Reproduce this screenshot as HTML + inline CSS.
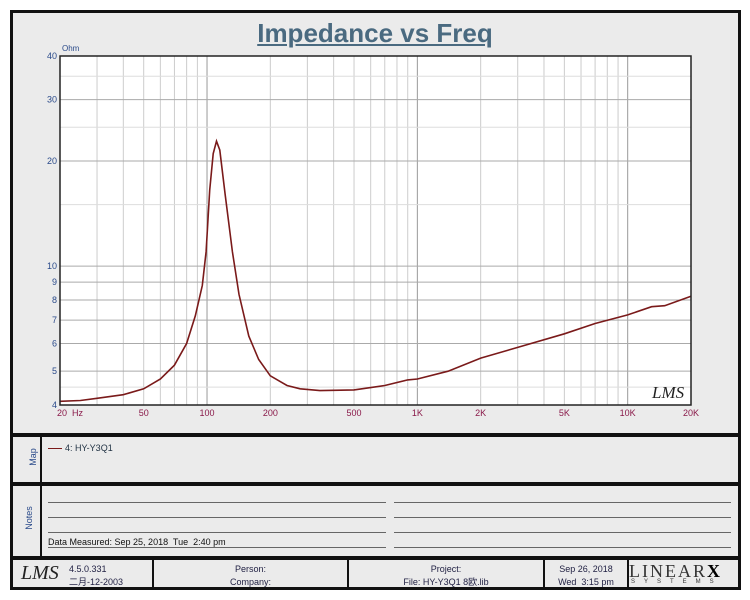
<!DOCTYPE html>
<html><head><meta charset="utf-8"><style>
body{margin:0;background:#fff;width:750px;height:600px;position:relative;font-family:"Liberation Sans","Noto Sans CJK SC",sans-serif;overflow:hidden}
.box{position:absolute;border:3px solid #111;background:#ebebeb;box-sizing:border-box}
.t{position:absolute;font-size:10px;color:#234;white-space:nowrap}
.line{position:absolute;height:1px;background:#666}
.cell{position:absolute;top:0;bottom:0;border-right:2px solid #111;text-align:center;font-size:9px;color:#224;line-height:13px;padding-top:3px;box-sizing:border-box}
</style></head><body>
<div class="box" style="left:10px;top:10px;width:731px;height:426px"></div>
<div style="position:absolute;left:0;width:750px;top:18px;text-align:center;font:bold 26px 'Liberation Sans',sans-serif;color:#4a6a80;text-decoration:underline">Impedance vs Freq</div>
<div class="box" style="left:10px;top:434px;width:731px;height:51px"></div>
<div class="box" style="left:10px;top:483px;width:731px;height:76px"></div>
<div style="position:absolute;left:40px;top:436px;width:2px;height:121px;background:#111"></div>
<div style="position:absolute;left:24px;top:452px;font-size:9px;color:#2a4a8a;transform:rotate(-90deg)">Map</div>
<div style="position:absolute;left:17px;top:513px;font-size:9px;color:#2a4a8a;transform:rotate(-90deg)">Notes</div>
<div style="position:absolute;left:48px;top:448px;width:14px;height:1px;background:#7a1a1a"></div>
<div class="t" style="left:65px;top:443px;font-size:9px">4: HY-Y3Q1</div>
<div class="line" style="left:48px;top:502px;width:338px"></div>
<div class="line" style="left:394px;top:502px;width:337px"></div>
<div class="line" style="left:48px;top:517px;width:338px"></div>
<div class="line" style="left:394px;top:517px;width:337px"></div>
<div class="line" style="left:48px;top:532px;width:338px"></div>
<div class="line" style="left:394px;top:532px;width:337px"></div>
<div class="line" style="left:48px;top:547px;width:338px"></div>
<div class="line" style="left:394px;top:547px;width:337px"></div>
<div class="t" style="left:48px;top:537px;font-size:9px;color:#111">Data Measured: Sep 25, 2018&nbsp; Tue&nbsp; 2:40 pm</div>
<div class="box" style="left:10px;top:557px;width:731px;height:33px">
 <div class="cell" style="left:0;width:141px;text-align:left">
  <span style="position:absolute;left:8px;top:2px;font:italic 20px 'Liberation Serif',serif;color:#222">LMS</span>
  <span style="position:absolute;left:56px;top:3px;font-size:9px">4.5.0.331<br>二月-12-2003</span></div>
 <div class="cell" style="left:141px;width:195px">Person:<br>Company:</div>
 <div class="cell" style="left:336px;width:196px">Project:<br>File: HY-Y3Q1 8欧.lib</div>
 <div class="cell" style="left:532px;width:84px">Sep 26, 2018<br>Wed&nbsp; 3:15 pm</div>
 <div style="position:absolute;left:616px;top:1px;font:18px 'Liberation Serif',serif;letter-spacing:2px;color:#333">LINEAR<b style="color:#000">X</b></div>
 <div style="position:absolute;left:618px;top:19px;font-size:6px;letter-spacing:9px;color:#333">SYSTEMS</div>
</div>
<svg id="s" width="750" height="600" style="position:absolute;left:0;top:0"></svg>
<script>
var X0=60,X1=691,Y0=56,Y1=405;
function fx(f){return X0+(Math.log10(f/20)/3)*(X1-X0);}
function fy(o){return Y1-Math.log10(o/4)*(Y1-Y0);}
var h='<rect x="60" y="56" width="631" height="349" fill="#fff"/>';
for(var d=10;d<=10000;d*=10)for(var m=1;m<10;m++){var f=d*m;if(f<20||f>20000)continue;var x=fx(f);h+='<line x1="'+x+'" y1="56" x2="'+x+'" y2="405" stroke="'+(m==1?'#999':'#ccc')+'" stroke-width="1"/>';}
[4.5,5,6,7,8,9,10,15,20,25,30,35].forEach(function(o){var y=fy(o);var mj=[5,6,7,8,9,10,20,30].indexOf(o)>=0;h+='<line x1="60" y1="'+y+'" x2="691" y2="'+y+'" stroke="'+(mj?'#aaa':'#ddd')+'"/>';});
var pts=[[20,4.1],[25,4.12],[30,4.18],[40,4.28],[50,4.45],[60,4.75],[70,5.2],[80,6.0],[88,7.2],[95,8.8],[99,11],[103,16.5],[107,21],[111,22.8],[115,21.5],[122,16],[132,11],[142,8.3],[158,6.3],[176,5.4],[200,4.85],[240,4.55],[277,4.45],[344,4.4],[500,4.42],[700,4.55],[900,4.72],[1000,4.75],[1400,5.0],[2000,5.45],[3000,5.85],[5000,6.4],[7000,6.85],[10000,7.25],[13000,7.65],[15000,7.7],[20000,8.2]];
h+='<polyline fill="none" stroke="#7a1a1a" stroke-width="1.6" points="'+pts.map(function(p){return fx(p[0]).toFixed(1)+','+fy(p[1]).toFixed(1)}).join(' ')+'"/>';
h+='<rect x="60" y="56" width="631" height="349" fill="none" stroke="#222" stroke-width="1.5"/>';
[[4,'4'],[5,'5'],[6,'6'],[7,'7'],[8,'8'],[9,'9'],[10,'10'],[20,'20'],[30,'30'],[40,'40']].forEach(function(a){h+='<text x="57" y="'+(fy(a[0])+3)+'" font-size="9" fill="#2a4a8a" text-anchor="end" font-family="Liberation Sans">'+a[1]+'</text>';});
h+='<text x="62" y="51" font-size="8" fill="#2a4a8a" font-family="Liberation Sans">Ohm</text>';
[[20,'20  Hz',70],[50,'50'],[100,'100'],[200,'200'],[500,'500'],[1000,'1K'],[2000,'2K'],[5000,'5K'],[10000,'10K'],[20000,'20K']].forEach(function(a){var x=a[2]||fx(a[0]);h+='<text x="'+x+'" y="416" font-size="9" fill="#8a1a4a" text-anchor="middle" font-family="Liberation Sans" xml:space="preserve">'+a[1]+'</text>';});
h+='<text x="652" y="398" font-size="17" font-style="italic" fill="#222" font-family="Liberation Serif">LMS</text>';
document.getElementById('s').innerHTML=h;
</script>
</body></html>
